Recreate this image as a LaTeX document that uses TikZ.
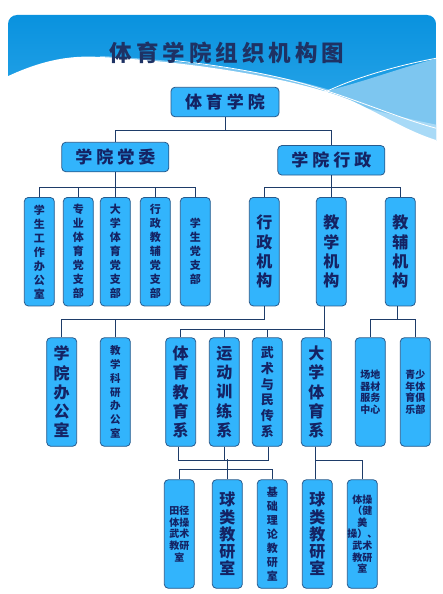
\documentclass[tikz,border=0pt]{standalone}
\usepackage{fontspec}
\newfontfamily\cjk{Noto Sans CJK SC}
\usetikzlibrary{positioning}

\definecolor{boxblue}{RGB}{50,180,252}
\definecolor{edgeblue}{RGB}{40,90,140}
\definecolor{lineblue}{RGB}{30,60,105}
\definecolor{inkblue}{RGB}{20,35,100}
\definecolor{hdtop}{RGB}{8,145,222}
\definecolor{hdbot}{RGB}{52,172,236}
\definecolor{hdlight}{RGB}{125,198,240}
\definecolor{hdpale}{RGB}{168,218,247}
\definecolor{titleblue}{RGB}{30,50,100}

\newcommand\tgap{\kern4pt}

\tikzset{
  orgbox/.style={draw=edgeblue, fill=boxblue, rounded corners=4pt, line width=0.8pt,
    inner sep=0pt, text=inkblue, align=center},
  hbox/.style={orgbox, minimum width=108pt, minimum height=29.5pt,
    font=\cjk\bfseries\fontsize{17}{20}\selectfont},
  vbox/.style={orgbox, minimum width=30pt, minimum height=108.5pt},
  fL/.style={font=\cjk\bfseries\fontsize{16}{19.3}\selectfont},
  fLt/.style={font=\cjk\bfseries\fontsize{16}{17.2}\selectfont},
  fM/.style={font=\cjk\bfseries\fontsize{13}{15.8}\selectfont},
  fS/.style={font=\cjk\bfseries\fontsize{11}{14}\selectfont},
  fR/.style={font=\cjk\bfseries\fontsize{10.5}{13.8}\selectfont},
  fX/.style={font=\cjk\bfseries\fontsize{10}{11.6}\selectfont},
  link/.style={draw=lineblue, line width=0.9pt}
}

\begin{document}
\begin{tikzpicture}[x=1pt,y=-1pt]
  \useasboundingbox (0,0) rectangle (443,594);
  \fill[white] (0,0) rectangle (443,594);

  % ---- header ----
  \begin{scope}
    \clip (8,160) [rounded corners=9pt] -- (8,15) -- (436,15) [sharp corners] -- (436,160) -- cycle;
    \shade[top color=hdtop, bottom color=hdbot] (0,10) rectangle (443,150);
    \fill[hdlight] (100,56) .. controls (220,62) and (290,78) .. (330,90)
      .. controls (370,80) and (405,66) .. (443,57) -- (443,160) -- (100,160) -- cycle;
    \fill[hdpale] (200,66) .. controls (300,86) and (360,110) .. (443,126)
      -- (443,160) -- (200,160) -- cycle;
    \fill[white] (0,80) .. controls (40,60) and (70,55) .. (100,57)
      .. controls (200,62) and (300,80) .. (350,100)
      .. controls (385,116) and (412,134) .. (443,142) -- (443,170) -- (0,170) -- cycle;
    \draw[white, line width=0.8pt] (170,60) .. controls (260,70) and (300,82) .. (330,92)
      .. controls (370,105) and (410,122) .. (443,130);
    \draw[white, line width=0.8pt] (268,120) .. controls (300,104) and (330,88) .. (360,78)
      .. controls (390,68) and (415,62) .. (443,57);
  \end{scope}
  % cover edge seams below the wave
  \fill[white] (435,141) rectangle (443,170);
  \fill[white] (0,86) rectangle (9,170);
  \fill[white] (0,152) rectangle (443,170);
  \node[text=titleblue, font=\cjk\bfseries\fontsize{22.5}{26}\selectfont] (title) at (227,53)
    {体\tgap 育\tgap 学\tgap 院\tgap 组\tgap 织\tgap 机\tgap 构\tgap 图};

  % ---- top levels ----
  \node[hbox] (college) at (225,102) {体\tgap 育\tgap 学\tgap 院};
  \node[hbox, minimum width=107pt] (party) at (115.3,157) {学\tgap 院\tgap 党\tgap 委};
  \node[hbox, minimum width=107pt] (admin) at (331.3,160.3) {学\tgap 院\tgap 行\tgap 政};

  % ---- third row ----
  \node[vbox,fS] (stuwork) at (39.3,251.7) {学\\生\\工\\作\\办\\公\\室};
  \node[vbox,fS] (probr) at (78.3,251.7) {专\\业\\体\\育\\党\\支\\部};
  \node[vbox,fS] (pubbr) at (115.3,251.7) {大\\学\\体\\育\\党\\支\\部};
  \node[vbox,fS] (admbr) at (155.3,251.7) {行\\政\\教\\辅\\党\\支\\部};
  \node[vbox,fS] (stubr) at (195.3,251.7) {学\\生\\党\\支\\部};
  \node[vbox,fL] (adminorg) at (264.3,251.7) {行\\政\\机\\构};
  \node[vbox,fL] (teachorg) at (331.3,251.7) {教\\学\\机\\构};
  \node[vbox,fL] (supporg) at (400.3,251.7) {教\\辅\\机\\构};

  % ---- fourth row ----
  \node[vbox,fL] (office) at (61.7,392) {学\\院\\办\\公\\室};
  \node[vbox,fR] (resoffice) at (115.3,392) {教\\学\\科\\研\\办\\公\\室};
  \node[vbox,fL] (peedu) at (180.7,392) {体\\育\\教\\育\\系};
  \node[vbox,fL] (training) at (224.3,392) {运\\动\\训\\练\\系};
  \node[vbox,fM] (wushu) at (267.3,392) {武\\术\\与\\民\\传\\系};
  \node[vbox,fL] (pubpe) at (316.3,392) {大\\学\\体\\育\\系};
  \node[vbox,fX] (venue) at (370.3,392) {场地\\器材\\服务\\中心};
  \node[vbox,fX] (youth) at (415.3,392) {青少\\年体\\育俱\\乐部};

  % ---- fifth row ----
  \node[vbox,fX] (tfield) at (179.3,534) {田径\\体操\\武术\\教研\\室};
  \node[vbox,fLt] (ball) at (227.3,534) {球\\类\\教\\研\\室};
  \node[vbox,fS] (theory) at (272.3,534) {基\\础\\理\\论\\教\\研\\室};
  \node[vbox,fLt] (ballpub) at (317.3,534) {球\\类\\教\\研\\室};
  \node[vbox,fX] (gym) at (362.3,534) {体操\\（健\\美\\操）、\\武术\\教研\\室};

  % ---- connectors ----
  \foreach \n in {party,admin}
    \draw[link] (college.south) -- ++(0,13) -| (\n.north);
  \foreach \n in {stuwork,probr,pubbr,admbr,stubr}
    \draw[link] (party.south) -- ++(0,15.5) -| (\n.north);
  \foreach \n in {adminorg,teachorg,supporg}
    \draw[link] (admin.south) -- ++(0,12.2) -| (\n.north);
  \foreach \n in {office,resoffice}
    \draw[link] (adminorg.south) -- ++(0,13.3) -| (\n.north);
  \foreach \n in {peedu,training,wushu}
    \draw[link] ([xshift=-7pt]teachorg.south) -- ++(0,23.3) -| (\n.north);
  \draw[link] ([xshift=-7pt]teachorg.south) -- ([xshift=8pt]pubpe.north);
  \foreach \n in {venue,youth}
    \draw[link] ([xshift=-3pt]supporg.south) -- ++(0,13.3) -| (\n.north);
  % teaching groups
  \draw[link] ([xshift=-2pt]peedu.south) -- ++(0,14) -| ([xshift=1pt]wushu.south);
  \draw[link] (training.south) -- ++(0,14);
  \draw[link] (ball.north) -- ++(0,-20);
  \draw[link] (tfield.north) -- ++(0,-10) -| (theory.north);
  \draw[link] ([xshift=-0.6pt]pubpe.south) -- ([xshift=-1.6pt]ballpub.north);
  \draw[link] ([xshift=-0.6pt]pubpe.south) -- ++(0,14) -| (gym.north);
\end{tikzpicture}
\end{document}
